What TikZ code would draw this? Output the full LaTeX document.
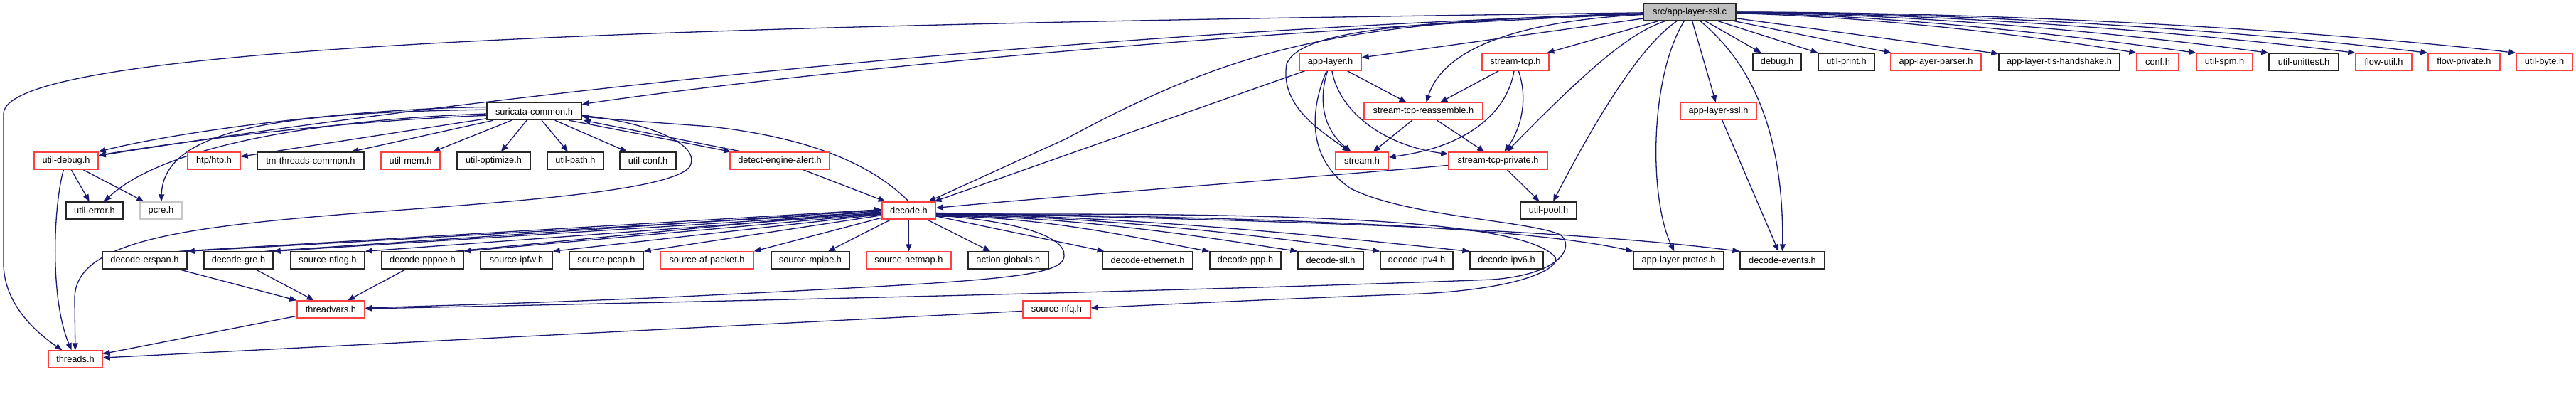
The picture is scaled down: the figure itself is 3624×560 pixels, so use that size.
\documentclass[tikz,border=0pt]{standalone}
\usepackage{fontspec}
\setmainfont{Liberation Sans}
\usetikzlibrary{arrows.meta,backgrounds}
\definecolor{edgecol}{RGB}{25,25,112}
\definecolor{redb}{RGB}{255,64,64}
\definecolor{rootfill}{RGB}{191,191,191}
\definecolor{lgray}{RGB}{200,200,200}
\tikzset{
 box/.style={rectangle, draw, line width=1.4pt, minimum height=24pt, inner sep=0pt, fill=white, font=\fontsize{12.8}{14}\selectfont, text=black},
 blk/.style={box, draw=black!85},
 rbox/.style={box, draw=redb},
 edge/.style={draw=edgecol, line width=1.3pt, -{Triangle[length=10pt,width=8pt]}},
}
\begin{document}
\begin{tikzpicture}[x=1pt,y=-1pt]
\useasboundingbox (0,0) rectangle (3624,560);
% row 0
\node[box, fill=rootfill, draw=black!85, minimum width=130pt] (root) at (2377,17) {src/app-layer-ssl.c};
% row 1
\node[rbox, minimum width=87pt] (applayer) at (1871.5,87) {app-layer.h};
\node[rbox, minimum width=94pt] (streamtcp) at (2132,87) {stream-tcp.h};
\node[blk, minimum width=68pt] (debug) at (2500,87) {debug.h};
\node[blk, minimum width=79pt] (utilprint) at (2597.5,87) {util-print.h};
\node[rbox, minimum width=127pt] (alparser) at (2723.5,87) {app-layer-parser.h};
\node[blk, minimum width=170pt] (tls) at (2897,87) {app-layer-tls-handshake.h};
\node[rbox, minimum width=59pt] (conf) at (3035.5,87) {conf.h};
\node[rbox, minimum width=79pt] (utilspm) at (3129.5,87) {util-spm.h};
\node[blk, minimum width=98pt] (unittest) at (3241,87) {util-unittest.h};
\node[rbox, minimum width=79pt] (flowutil) at (3353.5,87) {flow-util.h};
\node[rbox, minimum width=101pt] (flowpriv) at (3466.5,87) {flow-private.h};
\node[rbox, minimum width=79pt] (utilbyte) at (3579.5,87) {util-byte.h};
% row 2
\node[blk, minimum width=133pt] (sc) at (751.5,156.5) {suricata-common.h};
\node[rbox, minimum width=167pt] (streasm) at (2002.5,156.5) {stream-tcp-reassemble.h};
\node[rbox, minimum width=107pt] (alssl) at (2417.5,156.5) {app-layer-ssl.h};
% row 3
\node[rbox, minimum width=90pt] (utildebug) at (93,226) {util-debug.h};
\node[rbox, minimum width=74pt] (htp) at (301,226) {htp/htp.h};
\node[blk, minimum width=150pt] (tmthreads) at (437,226) {tm-threads-common.h};
\node[rbox, minimum width=83pt] (utilmem) at (577.5,226) {util-mem.h};
\node[blk, minimum width=103pt] (utilopt) at (694.5,226) {util-optimize.h};
\node[blk, minimum width=79pt] (utilpath) at (809.5,226) {util-path.h};
\node[blk, minimum width=79pt] (utilconf) at (911.5,226) {util-conf.h};
\node[rbox, minimum width=140pt] (dea) at (1097,226) {detect-engine-alert.h};
\node[rbox, minimum width=74pt] (stream) at (1916,226) {stream.h};
\node[rbox, minimum width=139pt] (stpriv) at (2107.5,226) {stream-tcp-private.h};
% row 4
\node[blk, minimum width=80pt] (utilerror) at (133,296) {util-error.h};
\node[box, draw=lgray, minimum width=59pt] (pcre) at (226.5,296) {pcre.h};
\node[rbox, minimum width=75pt] (decode) at (1278.5,296) {decode.h};
\node[blk, minimum width=79pt] (utilpool) at (2178.5,296) {util-pool.h};
% row 5
\node[blk, minimum width=119pt] (erspan) at (203.5,366) {decode-erspan.h};
\node[blk, minimum width=97pt] (gre) at (335.5,366) {decode-gre.h};
\node[blk, minimum width=104pt] (nflog) at (461,366) {source-nflog.h};
\node[blk, minimum width=115pt] (pppoe) at (594.5,366) {decode-pppoe.h};
\node[blk, minimum width=101pt] (ipfw) at (726.5,366) {source-ipfw.h};
\node[blk, minimum width=104pt] (pcap) at (853,366) {source-pcap.h};
\node[rbox, minimum width=131pt] (afpacket) at (994.5,366) {source-af-packet.h};
\node[blk, minimum width=110pt] (mpipe) at (1140,366) {source-mpipe.h};
\node[rbox, minimum width=119pt] (netmap) at (1278.5,366) {source-netmap.h};
\node[blk, minimum width=113pt] (actglob) at (1418.5,366) {action-globals.h};
\node[blk, minimum width=127pt] (ether) at (1614.5,366) {decode-ethernet.h};
\node[blk, minimum width=100pt] (ppp) at (1752,366) {decode-ppp.h};
\node[blk, minimum width=92pt] (sll) at (1872,366) {decode-sll.h};
\node[blk, minimum width=102pt] (ipv4) at (1993,366) {decode-ipv4.h};
\node[blk, minimum width=103pt] (ipv6) at (2119.5,366) {decode-ipv6.h};
\node[blk, minimum width=127pt] (alprotos) at (2361.5,366) {app-layer-protos.h};
\node[blk, minimum width=119pt] (devents) at (2507.5,366) {decode-events.h};
% row 6, 7
\node[rbox, minimum width=95pt] (threadvars) at (465.5,435) {threadvars.h};
\node[rbox, minimum width=95pt] (nfq) at (1486.5,435) {source-nfq.h};
\node[rbox, minimum width=76pt] (threads) at (106,505) {threads.h};

\begin{scope}[on background layer]
% root edges
\draw[edge] (root) .. controls (1000,35) and (5,60) .. (5,160) -- (5,370) .. controls (5,420) and (40,460) .. (threads);
\draw[edge] (root) .. controls (1700,45) and (1100,105) .. (sc);
\draw[edge] (root) .. controls (1500,45) and (700,130) .. (utildebug);
\draw[edge] (root) .. controls (1900,30) and (1750,60) .. (1500,195) -- (decode);
\draw[edge] (root) -- (applayer);
\draw[edge] (root) .. controls (2000,30) and (1830,40) .. (1810,90) .. controls (1800,150) and (1860,185) .. (stream);
\draw[edge] (root) .. controls (2130,30) and (2030,70) .. (streasm);
\draw[edge] (root) -- (streamtcp);
\draw[edge] (root) .. controls (2300,45) and (2255,75) .. (stpriv);
\draw[edge] (root) .. controls (2330,50) and (2280,100) .. (utilpool);
\draw[edge] (root) .. controls (2320,110) and (2320,280) .. (alprotos);
\draw[edge] (root) -- (alssl);
\draw[edge] (root) .. controls (2440,70) and (2510,150) .. (devents);
\draw[edge] (root) -- (debug);
\draw[edge] (root) -- (utilprint);
\draw[edge] (root) -- (alparser);
\draw[edge] (root) -- (tls);
\draw[edge] (root) .. controls (2650,24) and (2870,52) .. (conf.north west);
\draw[edge] (root) .. controls (2680,22) and (2930,52) .. (utilspm.north west);
\draw[edge] (root) .. controls (2720,20) and (3010,50) .. (unittest.north west);
\draw[edge] (root) .. controls (2760,19) and (3100,48) .. (flowutil.north west);
\draw[edge] (root) .. controls (2800,18) and (3180,46) .. (flowpriv.north west);
\draw[edge] (root) .. controls (2840,17) and (3270,44) .. (utilbyte.north west);
% suricata-common edges
\draw[edge] (sc.175) .. controls (500,152) and (250,185) .. (utildebug.north east);
\draw[edge] (sc.185) .. controls (480,170) and (260,198) .. (utildebug);
\draw[edge] (sc.183) .. controls (450,168) and (230,205) .. (utilerror);
\draw[edge] (sc.178) .. controls (400,158) and (230,180) .. (pcre);
\draw[edge] (sc) -- (htp);
\draw[edge] (sc) -- (tmthreads);
\draw[edge] (sc) -- (utilmem);
\draw[edge] (sc) -- (utilopt);
\draw[edge] (sc) -- (utilpath);
\draw[edge] (sc) -- (utilconf);
\draw[edge] ([xshift=-18pt]sc.south east) -- ([xshift=2pt]dea.north west);
\draw[edge] ([xshift=18pt]dea.north west) -- ([xshift=2pt]sc.south east);
\draw[edge] (sc.-5) .. controls (900,170) and (990,200) .. (970,235) .. controls (940,270) and (700,285) .. (500,300) .. controls (250,320) and (105,340) .. (105,420) -- (threads);
\draw[edge] (decode.north) .. controls (1230,235) and (1150,195) .. (1000,178) .. controls (920,172) and (860,168) .. (sc);
\draw[edge] (dea) -- (decode);
% util-debug
\draw[edge] (utildebug) -- (utilerror);
\draw[edge] (utildebug) -- (pcre);
\draw[edge] (utildebug) .. controls (75,290) and (70,420) .. (threads);
% threadvars / threads
\draw[edge] (threadvars) -- (threads);
\draw[edge] (erspan) -- (threadvars);
\draw[edge] (gre) -- (threadvars);
\draw[edge] (pppoe) -- (threadvars);
\draw[edge] (nfq) -- (threads);
\draw[edge] (decode.-10) .. controls (1420,310) and (1500,330) .. (1497,360) .. controls (1495,390) and (1400,395) .. (1000,415) .. controls (800,425) and (600,430) .. (threadvars);
\draw[edge] (applayer) .. controls (1845,150) and (1835,220) .. (1900,265) .. controls (1980,305) and (2150,310) .. (2195,330) .. controls (2215,345) and (2200,385) .. (2100,393) .. controls (1800,405) and (1200,420) .. (threadvars);
\draw[edge] (decode.-8) .. controls (1700,300) and (2140,300) .. (2188,362) .. controls (2195,375) and (2150,405) .. (2000,413) .. controls (1800,420) and (1600,430) .. (nfq);
% decode fan left
\draw[edge] (decode.183) -- (erspan.north east);
\draw[edge] ([xshift=-12pt]erspan.north east) -- (decode.178);
\draw[edge] (decode.185) -- (gre.north east);
\draw[edge] ([xshift=-12pt]gre.north east) -- (decode.179);
\draw[edge] (decode.186) -- (nflog.north east);
\draw[edge] (decode.187) -- (pppoe.north east);
\draw[edge] ([xshift=-12pt]pppoe.north east) -- (decode.180);
\draw[edge] (decode.188) -- (ipfw.north east);
\draw[edge] (decode.190) -- (pcap.north east);
\draw[edge] (decode.195) -- (afpacket.north east);
\draw[edge] (decode) -- (mpipe);
\draw[edge] (decode) -- (netmap);
\draw[edge] (decode) -- (actglob);
% decode fan right
\draw[edge] (decode) -- (ether);
\draw[edge] (decode.-12) .. controls (1470,303) and (1625,340) .. (ppp.north west);
\draw[edge] (decode.-11) .. controls (1520,303) and (1724,338) .. (sll.north west);
\draw[edge] (decode.-9) .. controls (1566,303) and (1817,338) .. (ipv4.north west);
\draw[edge] (decode.-7) .. controls (1616,304) and (1918,338) .. (ipv6.north west);
\draw[edge] (decode.-6) .. controls (1800,305) and (2150,320) .. (alprotos.north west);
\draw[edge] (decode.-5) .. controls (1800,310) and (2200,322) .. (devents.north west);
% stream family
\draw[edge] (applayer) -- (decode);
\draw[edge] (applayer) .. controls (1855,140) and (1860,180) .. (stream);
\draw[edge] (applayer) .. controls (1885,160) and (1950,205) .. (stpriv);
\draw[edge] (applayer) -- (streasm);
\draw[edge] (streamtcp) -- (streasm);
\draw[edge] (streamtcp) .. controls (2150,140) and (2140,180) .. (stpriv);
\draw[edge] (streamtcp) .. controls (2122,150) and (2075,205) .. (stream);
\draw[edge] (streasm) -- (stream);
\draw[edge] (streasm) -- (stpriv);
\draw[edge] (stpriv) .. controls (1900,245) and (1500,275) .. (decode);
\draw[edge] (stpriv) -- (utilpool);
\draw[edge] (alssl) -- (devents);
\end{scope}
\end{tikzpicture}
\end{document}
